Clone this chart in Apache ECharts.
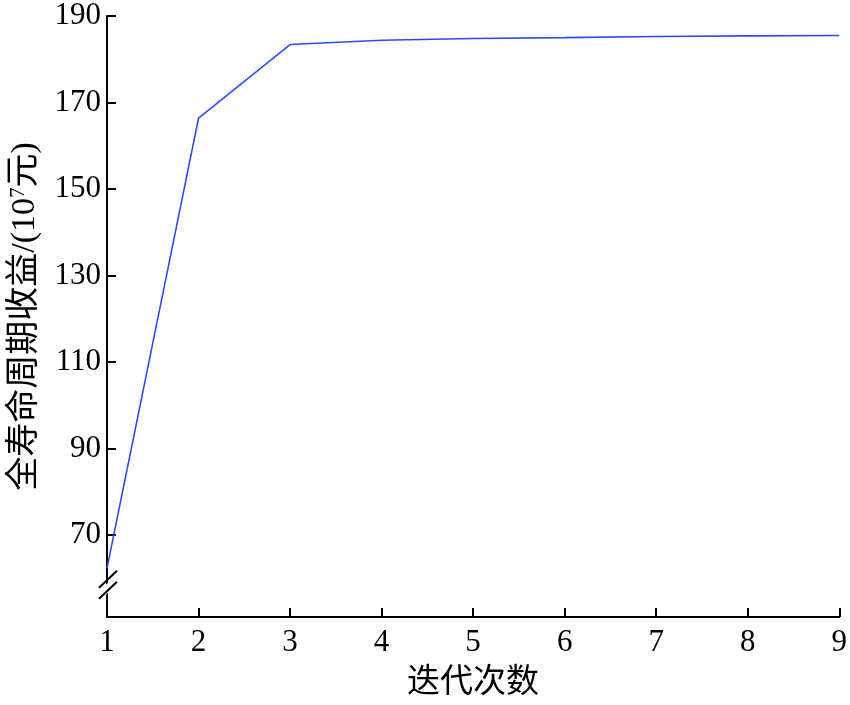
<!DOCTYPE html>
<html>
<head>
<meta charset="utf-8">
<script src="https://cdn.jsdelivr.net/npm/echarts@6/dist/echarts.min.js"></script>
<style>
html,body{margin:0;padding:0;background:#fff;}
#c{width:850px;height:705px;}
</style>
</head>
<body>
<div id="c"></div>
<script>
const iterations = [1, 2, 3, 4, 5, 6, 7, 8, 9];
const profit = [62.4, 166.4, 183.4, 184.4, 184.8, 185.0, 185.25, 185.4, 185.5];
const yTicks = [70, 90, 110, 130, 150, 170, 190];
const xName = '迭代次数';
const yNameMain = '全寿命周期收益/(10';
const yNameSup = '7';
const yNameEnd = '元)';

const font = '"Liberation Serif", "Noto Sans CJK SC", serif';
const chart = echarts.init(document.getElementById('c'));
chart.setOption({
  animation: false,
  backgroundColor: '#fff',
  grid: {left: 106, right: 10, top: 16, bottom: 85},
  xAxis: {
    type: 'value', min: 1, max: 9, interval: 1,
    name: xName, nameLocation: 'middle', nameGap: 50,
    nameTextStyle: {fontFamily: font, fontSize: 33, color: '#000'},
    axisLine: {lineStyle: {color: '#000', width: 2}},
    axisTick: {inside: true, length: 9, lineStyle: {color: '#000', width: 2}},
    axisLabel: {fontFamily: font, fontSize: 31, color: '#000', margin: 10},
    splitLine: {show: false}
  },
  yAxis: {
    type: 'value', min: 51.1, max: 190,
    name: yNameMain + '{sup|' + yNameSup + '}' + yNameEnd,
    nameLocation: 'middle', nameGap: 64,
    nameTextStyle: {
      fontFamily: font, fontSize: 34, color: '#000',
      rich: {sup: {fontFamily: font, fontSize: 21, color: '#000', verticalAlign: 'top', padding: [0, 0, 14, 0]}}
    },
    axisLine: {lineStyle: {color: '#000', width: 2}},
    axisTick: {inside: true, length: 9, customValues: yTicks, lineStyle: {color: '#000', width: 2}},
    axisLabel: {fontFamily: font, fontSize: 31, color: '#000', margin: 6, customValues: yTicks},
    splitLine: {show: false}
  },
  series: [{
    type: 'line',
    data: iterations.map((x, i) => [x, profit[i]]),
    showSymbol: false,
    lineStyle: {color: '#2b4cf5', width: 1.6},
    z: 1
  }]
});

// axis break marks
const p = chart.convertToPixel({gridIndex: 0}, [1, 58.8]);
const cx = p[0], cy = p[1];
chart.setOption({
  graphic: [
    {type: 'polygon', z: 100, shape: {points: [[cx - 2, cy + 2], [cx + 2, cy - 2], [cx + 2, cy + 8], [cx - 2, cy + 12]]}, style: {fill: '#fff'}},
    {type: 'line', z: 101, shape: {x1: cx - 8, y1: cy + 4, x2: cx + 10, y2: cy - 13}, style: {stroke: '#000', lineWidth: 2}},
    {type: 'line', z: 101, shape: {x1: cx - 8, y1: cy + 15, x2: cx + 10, y2: cy - 2}, style: {stroke: '#000', lineWidth: 2}}
  ]
});
</script>
</body>
</html>
